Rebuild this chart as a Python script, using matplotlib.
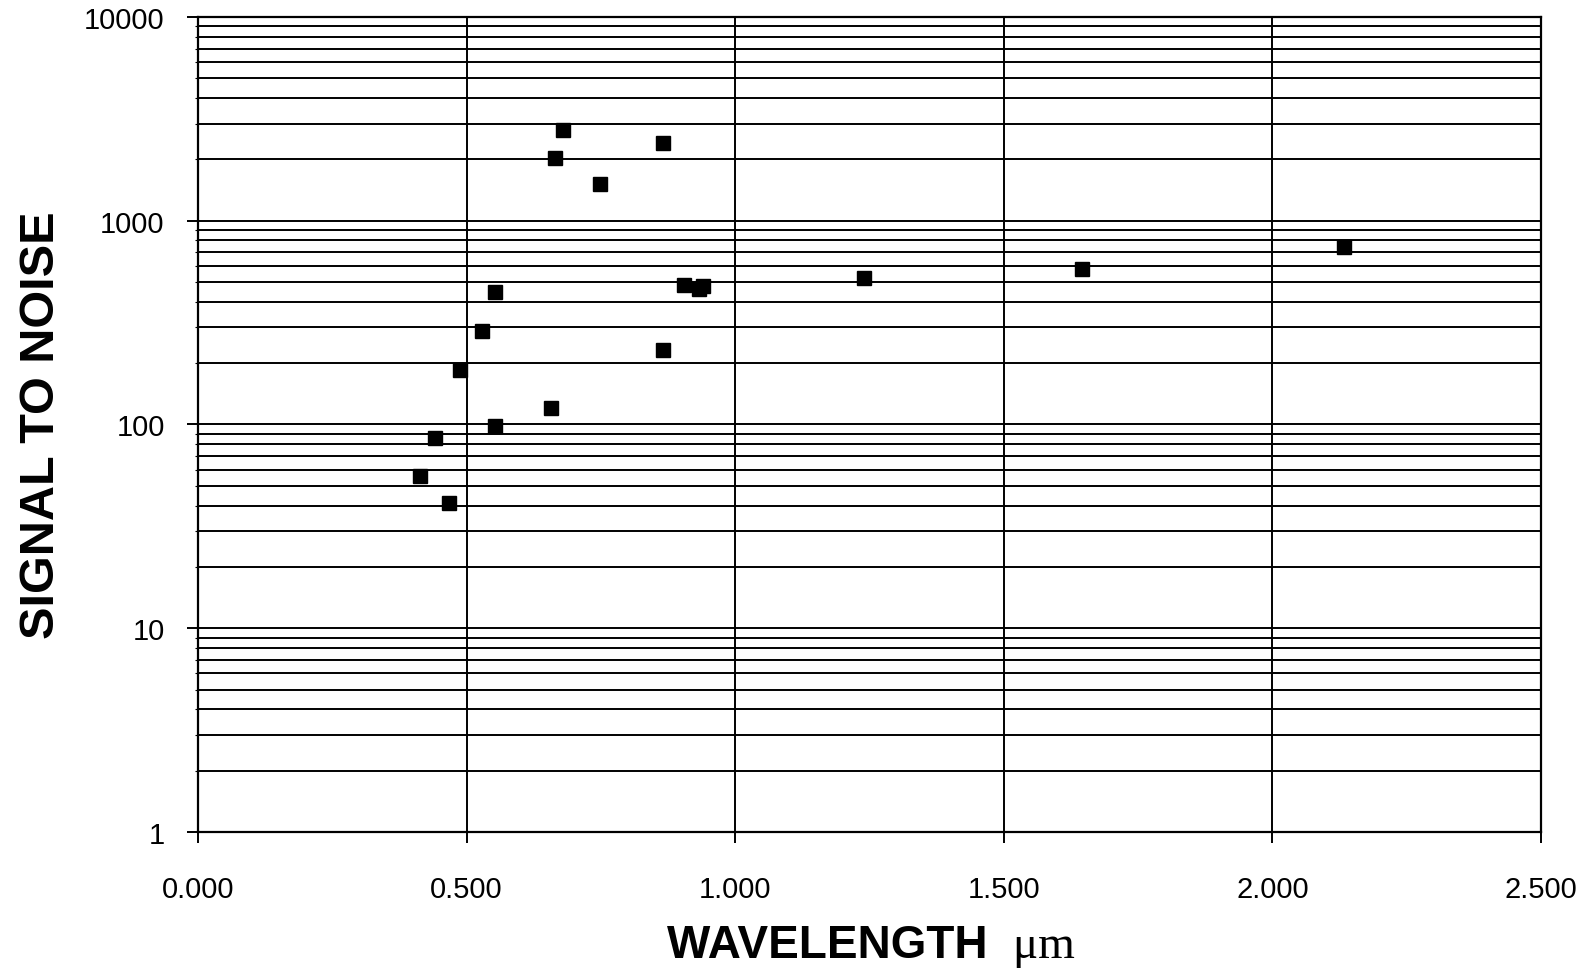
import matplotlib
matplotlib.use("Agg")
import matplotlib.pyplot as plt
from matplotlib.ticker import FixedLocator, LogLocator, NullFormatter, FuncFormatter

# Data
wavelength_um = [0.413, 0.468, 0.441, 0.4875, 0.529, 0.553, 0.553, 0.658, 0.664,
                 0.679, 0.748, 0.866, 0.866, 0.905, 0.932, 0.940, 1.239, 1.645, 2.133]
signal_to_noise = [56, 41, 86, 185, 286, 448, 98, 121, 2040,
                   2790, 1520, 2420, 233, 486, 460, 480, 526, 578, 740]

x_ticks = [0.0, 0.5, 1.0, 1.5, 2.0, 2.5]
y_ticks = [1, 10, 100, 1000, 10000]

plt.rcParams['font.family'] = ['Liberation Sans', 'DejaVu Sans']

fig = plt.figure(figsize=(15.89, 9.79), dpi=100)
ax = fig.add_axes([0.1246, 0.1492, 0.8452, 0.8324])

ax.set_xscale('linear')
ax.set_yscale('log')
ax.set_xlim(0, 2.5)
ax.set_ylim(1, 10000)

ax.xaxis.set_major_locator(FixedLocator(x_ticks))
ax.xaxis.set_major_formatter(FuncFormatter(lambda v, p: f"{v:.3f}"))
ax.yaxis.set_major_locator(FixedLocator(y_ticks))
ax.yaxis.set_major_formatter(FuncFormatter(lambda v, p: f"{int(round(v))}"))
ax.yaxis.set_minor_locator(LogLocator(base=10, subs=range(2, 10)))
ax.yaxis.set_minor_formatter(NullFormatter())

ax.grid(True, which='major', axis='both', color='black', linewidth=1.4)
ax.grid(True, which='minor', axis='y', color='black', linewidth=1.4)
ax.set_axisbelow(True)

for s in ax.spines.values():
    s.set_linewidth(1.6)
    s.set_color('black')

ax.tick_params(axis='x', which='major', direction='out', length=8, width=1.4,
               pad=23, labelsize=21)
ax.tick_params(axis='y', which='major', direction='out', length=8, width=1.4,
               pad=16, labelsize=21)
ax.tick_params(axis='y', which='minor', direction='out', length=2, width=0.8)

ax.plot(wavelength_um, signal_to_noise, linestyle='none', marker='s',
        markersize=10.5, color='black', zorder=5, clip_on=False)

ax.set_ylabel('SIGNAL TO NOISE', fontsize=35, fontweight='bold')
ax.yaxis.set_label_coords(-0.1, 0.5)

lbl1 = fig.text(0.0, 0.0, 'WAVELENGTH ', fontsize=33, fontweight='bold')
lbl2 = fig.text(0.0, 0.0, ' μm', fontsize=34, fontweight='normal',
                family=['Liberation Serif', 'DejaVu Serif'])
fig.canvas.draw()
r = fig.canvas.get_renderer()
w1 = lbl1.get_window_extent(r).width / fig.bbox.width
w2 = lbl2.get_window_extent(r).width / fig.bbox.width
cx = 0.1246 + 0.8452 * 0.501
y0 = 1 - 958 / 979
lbl1.set_position((cx - (w1 + w2) / 2, y0))
lbl2.set_position((cx - (w1 + w2) / 2 + w1, y0))

fig.savefig('out.png', dpi=100, facecolor='white')
